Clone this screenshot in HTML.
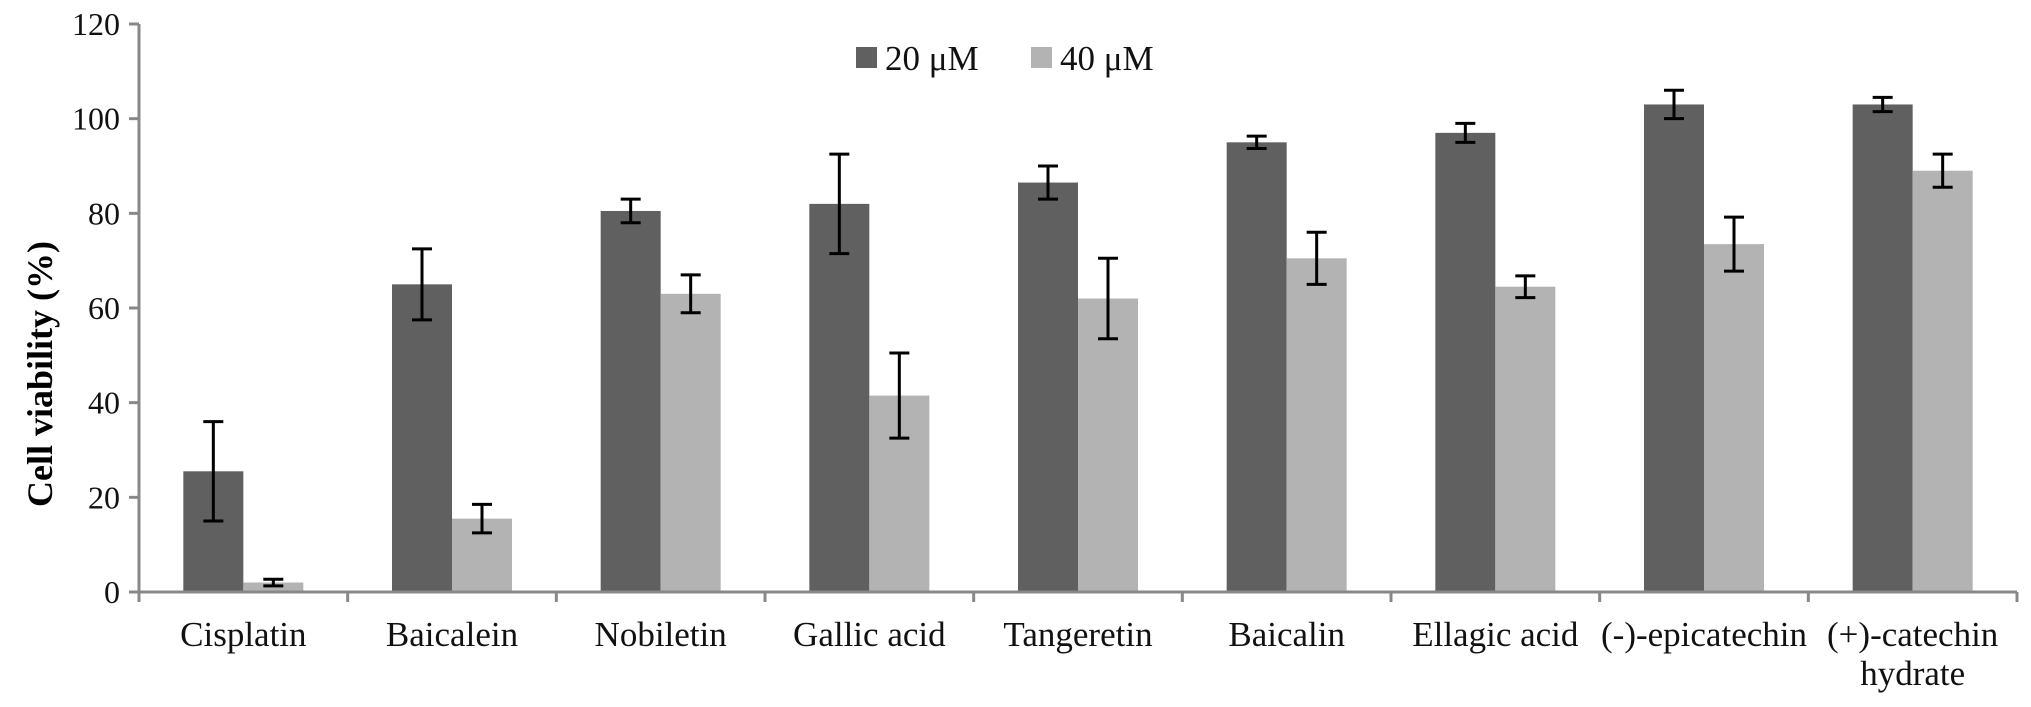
<!DOCTYPE html>
<html><head><meta charset="utf-8"><style>
body{margin:0;background:#fff}
svg{display:block;font-family:"Liberation Serif",serif}
</style></head><body>
<svg id="chart" width="2031" height="707"></svg>
<script>
const categories=[["Cisplatin"],["Baicalein"],["Nobiletin"],["Gallic acid"],["Tangeretin"],["Baicalin"],["Ellagic acid"],["(-)-epicatechin"],["(+)-catechin","hydrate"]];
const series20=[25.5,65,80.5,82,86.5,95,97,103,103];
const err20=[10.5,7.5,2.5,10.5,3.5,1.3,2,3,1.5];
const series40=[2,15.5,63,41.5,62,70.5,64.5,73.5,89];
const err40=[0.7,3,4,9,8.5,5.5,2.3,5.7,3.5];
const yTicks=[0,20,40,60,80,100,120];
const NS="http://www.w3.org/2000/svg";
const svg=document.getElementById('chart');
const X0=139,X1=2017,Y0=592,Y1=24,YMAX=120;
const cw=(X1-X0)/categories.length,bw=60;
const y=v=>Y0-(v/YMAX)*(Y0-Y1);
const cx=i=>X0+cw*(i+0.5);
function el(t,a,p){const e=document.createElementNS(NS,t);for(const k in a)e.setAttribute(k,a[k]);(p||svg).appendChild(e);return e;}
const ya=el('line',{x1:X0,y1:Y1,x2:X0,y2:Y0,stroke:'#888','stroke-width':3});


yTicks.forEach(v=>{
 el('line',{x1:X0-10,x2:X0,y1:y(v),y2:y(v),stroke:'#888','stroke-width':3});
 const t=el('text',{x:X0-19,y:y(v)+11,'text-anchor':'end','font-size':32,fill:'#111'});
 t.textContent=v;
 
 
});
const yt=el('text',{x:0,y:0,'font-size':36,'font-weight':'bold','text-anchor':'middle',transform:'translate(52,374) rotate(-90)',fill:'#000'});
yt.textContent='Cell viability (%)';


categories.forEach((c,i)=>{
 const b1=el('rect',{x:cx(i)-bw,y:y(series20[i]),width:bw,height:Y0-y(series20[i]),fill:'#606060'});
 
 
 const b2=el('rect',{x:cx(i),y:y(series40[i]),width:bw,height:Y0-y(series40[i]),fill:'#b3b3b3'});
 
 
 [[cx(i)-bw/2,series20[i],err20[i]],[cx(i)+bw/2,series40[i],err40[i]]].forEach(([x,v,e])=>{
  const g=el('g',{stroke:'#000','stroke-width':3});
  
  
  el('line',{x1:x,x2:x,y1:y(v+e),y2:y(v-e)},g);
  el('line',{x1:x-10,x2:x+10,y1:y(v+e),y2:y(v+e)},g);
  el('line',{x1:x-10,x2:x+10,y1:y(v-e),y2:y(v-e)},g);
 });
 c.forEach((s,j)=>{
  const t=el('text',{x:cx(i),y:646+j*39,'text-anchor':'middle','font-size':35,fill:'#111'});
  t.textContent=s;
  
  
 });
});
const xa=el('line',{x1:X0,y1:Y0,x2:X1,y2:Y0,stroke:'#888','stroke-width':3});


for(let i=0;i<=categories.length;i++)el('line',{x1:X0+cw*i,x2:X0+cw*i,y1:Y0,y2:Y0+10,stroke:'#888','stroke-width':3});
[['20 μM','#606060',856],['40 μM','#b3b3b3',1031]].forEach(([l,c,x])=>{
 const g=el('g',{});
 
 
 el('rect',{x:x,y:47,width:21,height:21,fill:c},g);
 const t=el('text',{x:x+29,y:70,'font-size':35,fill:'#111'},g);
 t.textContent=l;
});
</script>
</body></html>
